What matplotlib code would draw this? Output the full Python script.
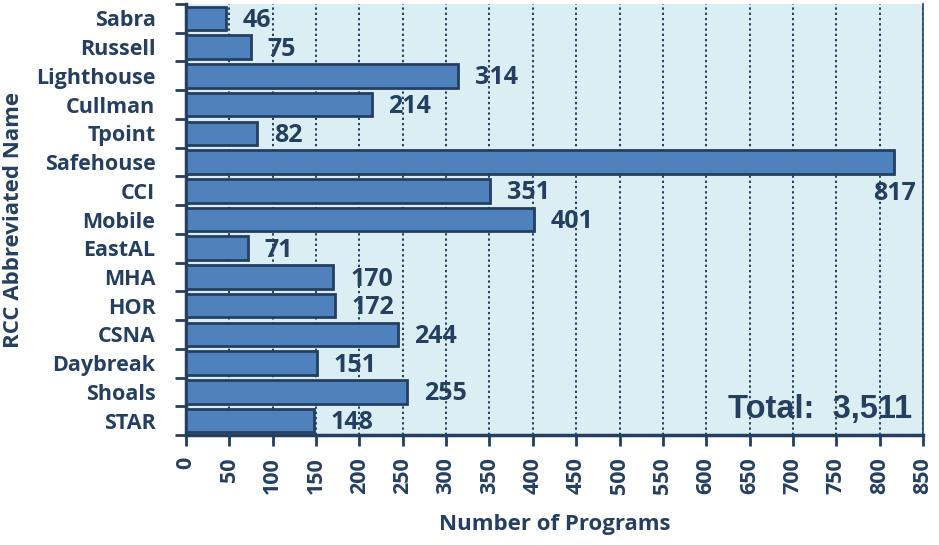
import matplotlib
matplotlib.use("Agg")
import matplotlib.pyplot as plt
import numpy as np

categories = ["Sabra", "Russell", "Lighthouse", "Cullman", "Tpoint", "Safehouse", "CCI",
              "Mobile", "EastAL", "MHA", "HOR", "CSNA", "Daybreak", "Shoals", "STAR"]
values = [46, 75, 314, 214, 82, 817, 351, 401, 71, 170, 172, 244, 151, 255, 148]
xticks = list(range(0, 851, 50))
total_text = "Total:  3,511"

navy = "#243F60"
bar_color = "#4F81BD"
bg = "#DBEEF4"

fig = plt.figure(figsize=(9.39, 5.45), dpi=100)
ax = fig.add_axes([186/939, 1-435/545, (923-186)/939, (435-4)/545])
ax.set_facecolor(bg)

y = np.arange(len(categories))
ax.barh(y, values, height=0.82, color=bar_color, edgecolor=navy, linewidth=2, zorder=3)
ax.set_ylim(len(categories) - 0.5, -0.5)
ax.set_xlim(0, 850)

font = "Open Sans"
fs_cat = 15.5
fs_tick = 15.5
fs_val = 18
fs_lab = 16
ax.set_xticks(xticks)
ax.set_xticklabels([str(v) for v in xticks], rotation=90, fontsize=fs_tick,
                   fontweight="bold", color=navy, family=font)
ax.set_yticks(y)
ax.set_yticklabels(categories, fontsize=fs_cat, fontweight="bold", color=navy, family=font)
ax.tick_params(axis="y", length=0, pad=22)
ax.set_yticks(np.arange(-0.5, len(categories), 1), minor=True)
ax.tick_params(axis="y", which="minor", length=8, width=2, color=navy, direction="out")
ax.tick_params(axis="x", length=8, width=2, color=navy, pad=8, direction="out")

ax.grid(axis="x", linestyle=(0, (1.2, 1.5)), color=navy, linewidth=1.4, zorder=1)
ax.set_axisbelow(True)

for s in ["left", "bottom"]:
    ax.spines[s].set_color(navy)
    ax.spines[s].set_linewidth(2.5)
ax.spines["right"].set_color(navy)
ax.spines["right"].set_linewidth(1.2)
ax.spines["top"].set_visible(False)

for yi, v in zip(y, values):
    if v > 800:
        ax.annotate(str(v), xy=(v, yi), xytext=(-15.5, -23), textcoords="offset points",
                    ha="left", va="center", fontsize=fs_val, fontweight="bold",
                    color=navy, family=font, zorder=4)
    else:
        ax.annotate(str(v), xy=(v, yi), xytext=(12, -1.5), textcoords="offset points",
                    ha="left", va="center", fontsize=fs_val, fontweight="bold",
                    color=navy, family=font, zorder=4)

ax.text(0.985, 0.06, total_text, transform=ax.transAxes, ha="right", va="center",
        fontsize=23.5, fontweight="bold", color=navy, family="Liberation Sans", zorder=4)

ax.set_xlabel("Number of Programs", fontsize=fs_lab, fontweight="bold", color=navy,
              family=font, labelpad=14)
ax.set_ylabel("RCC Abbreviated Name", fontsize=fs_lab, fontweight="bold", color=navy,
              family=font, labelpad=8)
ax.yaxis.set_label_coords(-162/737, 0.5)

fig.savefig("out.png", dpi=100, facecolor="white")
